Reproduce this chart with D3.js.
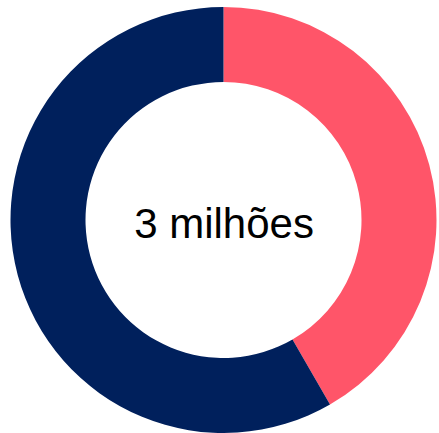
<!DOCTYPE html>
<html>
<head>
<meta charset="utf-8">
<script src="https://cdn.jsdelivr.net/npm/d3@7"></script>
<style>
  html, body { margin: 0; padding: 0; background: #fff; }
  svg { display: block; }
</style>
</head>
<body>
<svg id="chart1"></svg>
<script>
// slice data (millions)
let categories = ["A", "B"];
let values = [1.25, 1.75];
let colors = ["#ff5569", "#00205c"];
let centerLabel = "3 milhões";

let margin = [];
margin.width = 439;
margin.height = 433;
margin.cx = 223.5;
margin.cy = 220;
margin.outer = 213;
margin.inner = 138;

let data = categories.map((c, i) => ({ name: c, value: values[i] }));

let svg = d3.select("#chart1")
  .attr("width", margin.width)
  .attr("height", margin.height);

let pie = d3.pie()
  .sort(null)
  .value((d) => { return d.value; });

let arc = d3.arc()
  .innerRadius(margin.inner)
  .outerRadius(margin.outer);

let color = d3.scaleOrdinal()
  .domain(categories)
  .range(colors);

let g = svg.append("g")
  .attr("transform", "translate(" + margin.cx + "," + margin.cy + ")");

g.selectAll("path")
  .data(pie(data))
  .enter()
  .append("path")
    .attr("d", arc)
    .attr("fill", (d) => { return color(d.data.name); });

g.append("text")
  .attr("x", 0.5)
  .attr("y", 17.5)
  .style("text-anchor", "middle")
  .style("font-family", "'Liberation Sans', Arial, sans-serif")
  .style("font-size", "42px")
  .style("fill", "#000")
  .text(centerLabel);
</script>
</body>
</html>
